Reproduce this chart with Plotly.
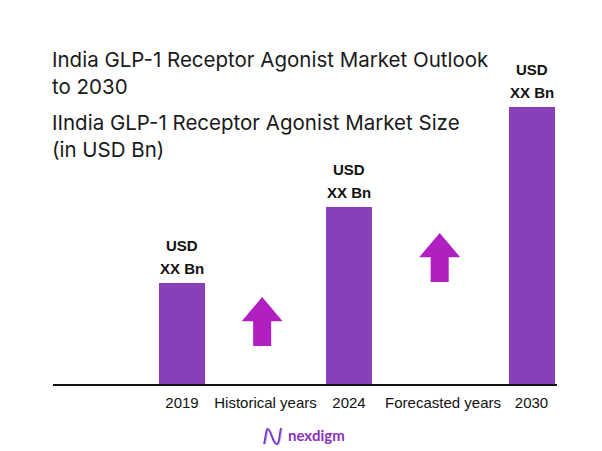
import plotly.graph_objects as go

# ---- data ----
years = ["2019", "2024", "2030"]
values = [1.0, 1.75, 2.74]          # placeholder relative market size (labels read "USD XX Bn")
value_labels = ["XX Bn", "XX Bn", "XX Bn"]
period_labels = ["Historical years", "Forecasted years"]

title_text = "India GLP-1 Receptor Agonist Market Outlook<br>to 2030"
subtitle_text = "IIndia GLP-1 Receptor Agonist Market Size<br>(in USD Bn)"

# ---- layout constants ----
bar_slots = [0, 2, 4.186]      # x positions of bars on the numeric axis
period_slots = [1.0, 3.126]    # x positions of period labels
BAR_COLOR = "#8840B8"
ARROW_COLOR = "#B01FC0"

fig = go.Figure()
fig.add_trace(go.Bar(
    x=bar_slots, y=values, width=0.55,
    marker=dict(color=BAR_COLOR, line=dict(width=0)),
    hoverinfo="skip",
))

# value labels above bars
for xs, v, lab in zip(bar_slots, values, value_labels):
    fig.add_annotation(x=xs, y=v, xref="x", yref="y", text="<b>" + lab + "</b>",
                       showarrow=False, yanchor="bottom", yshift=4,
                       font=dict(family="Liberation Sans", size=15, color="#111111"))
    fig.add_annotation(x=xs, y=v, xref="x", yref="y", text="<b>USD</b>",
                       showarrow=False, yanchor="bottom", yshift=27,
                       font=dict(family="Liberation Sans", size=15, color="#111111"))

# block arrows (decorative growth indicators) in data coordinates
def arrow_path(cx, y0, h=0.485, hw=0.245, sw=0.108, hh=0.24):
    yb = y0 + h - hh
    yt = y0 + h
    return (f"M {cx - sw} {y0} L {cx + sw} {y0} L {cx + sw} {yb} L {cx + hw} {yb} "
            f"L {cx} {yt} L {cx - hw} {yb} L {cx - sw} {yb} Z")

for cx, y0 in [(period_slots[0] - 0.04, 0.376), (period_slots[1] - 0.04, 1.01)]:
    fig.add_shape(type="path", path=arrow_path(cx, y0), xref="x", yref="y",
                  fillcolor=ARROW_COLOR, line=dict(width=0), layer="above")

# titles
fig.add_annotation(x=0, y=1, xref="paper", yref="paper", xanchor="left", yanchor="top",
                   text=title_text, showarrow=False, align="left",
                   xshift=-3, yshift=(100 - 45),
                   font=dict(family="Inter", size=20.5, color="#1a1a1a"))
fig.add_annotation(x=0, y=1, xref="paper", yref="paper", xanchor="left", yanchor="top",
                   text=subtitle_text, showarrow=False, align="left",
                   xshift=-3, yshift=(100 - 108),
                   font=dict(family="Inter", size=20.5, color="#1a1a1a"))

# logo
W, H = 504.0, 284.0
def px(xp):
    return (xp - 53) / W
def py(yp):
    return (384 - yp) / H
def wave(dx, dy):
    return (f"M {px(264+dx)} {py(444+dy)} C {px(266+dx)} {py(436+dy)} {px(266+dx)} {py(428+dy)} {px(268+dx)} {py(429+dy)} "
            f"C {px(271+dx)} {py(430+dy)} {px(273+dx)} {py(445+dy)} {px(277+dx)} {py(444+dy)} "
            f"C {px(280+dx)} {py(443+dy)} {px(279+dx)} {py(434+dy)} {px(281+dx)} {py(428+dy)}")
fig.add_shape(type="path", path=wave(1.2, 0.5), xref="paper", yref="paper",
              line=dict(color="#cdb2ee", width=1.2))
fig.add_shape(type="path", path=wave(0, 0), xref="paper", yref="paper",
              line=dict(color="#7a35c8", width=1.8))
fig.add_annotation(x=px(286), y=py(435), xref="paper", yref="paper", xanchor="left",
                   yanchor="middle", text="<b>nexdigm</b>", showarrow=False,
                   font=dict(family="Lato", size=15, color="#8a2fc0"))

tickvals = [bar_slots[0], period_slots[0], bar_slots[1], period_slots[1], bar_slots[2]]
ticktext = [years[0], period_labels[0], years[1], period_labels[1], years[2]]

fig.update_layout(
    width=602, height=451,
    margin=dict(l=53, r=45, t=100, b=67),
    paper_bgcolor="white", plot_bgcolor="white",
    showlegend=False,
    bargap=0,
    xaxis=dict(range=[-1.545, 4.491], tickvals=tickvals, ticktext=ticktext,
               showline=True, linecolor="#111111", linewidth=2,
               showgrid=False, zeroline=False, ticks="", ticklabelstandoff=4,
               tickfont=dict(family="Liberation Sans", size=15, color="#111111"),
               fixedrange=True),
    yaxis=dict(range=[0, 2.81], visible=False, showgrid=False, fixedrange=True),
)

fig.write_html("out.html", config={"displayModeBar": False},
               post_script="document.body.style.margin='0';document.body.style.overflow='hidden';")
